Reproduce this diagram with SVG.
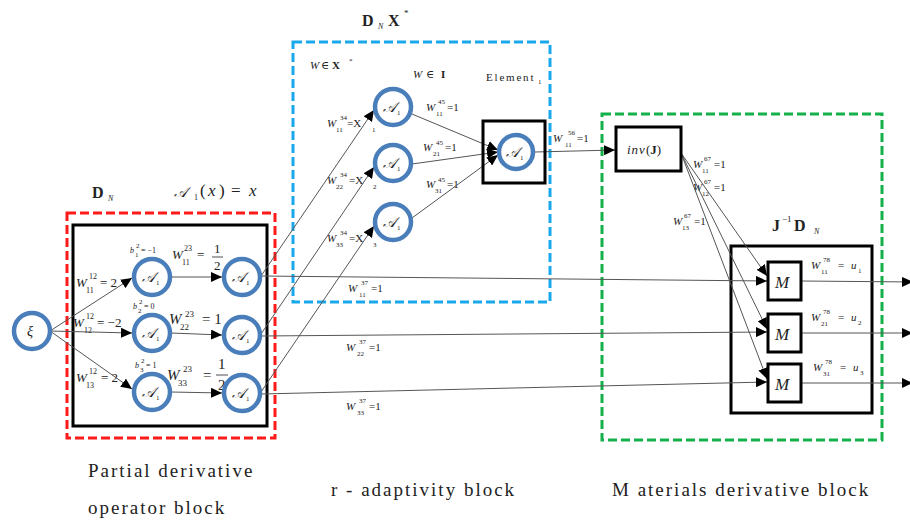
<svg xmlns="http://www.w3.org/2000/svg" width="910" height="523" viewBox="0 0 910 523">
<style>
.bg{fill:#fff}
.ln{stroke:#555;stroke-width:1;fill:none}
.nd{fill:#fff;stroke:#4a7ebb;stroke-width:4.5}
.bx{fill:#fff;stroke:#000;stroke-width:3}
.bxo{fill:none;stroke:#000;stroke-width:3}
.red{fill:none;stroke:#ff1a1a;stroke-width:3;stroke-dasharray:9 4}
.blue{fill:none;stroke:#1aa8ec;stroke-width:3;stroke-dasharray:9 4}
.green{fill:none;stroke:#14b04a;stroke-width:3;stroke-dasharray:9 4}
text{font-family:"Liberation Serif","DejaVu Serif",serif;fill:#222}
.i{font-style:italic}
.w{font-size:13px}
.ws{font-size:11px}
.s{font-size:8px}
.ss{font-size:7px}
.a{font-family:"DejaVu Serif","DejaVu Sans","Noto Sans",serif;font-size:14px;font-style:italic}
.bt{font-size:19px;letter-spacing:2px}
</style>
<defs>
<marker id="ah" markerUnits="userSpaceOnUse" markerWidth="12" markerHeight="10" refX="11" refY="5" orient="auto">
<path d="M0,0 L11,5 L0,10 z" fill="#000"/>
</marker>
</defs>
<rect class="bg" x="0" y="0" width="910" height="523"/>

<g id="blocks">
<rect class="red" x="67" y="213" width="208" height="225"/>
<rect class="blue" x="293" y="42" width="257" height="260"/>
<rect class="green" x="602" y="114" width="280" height="326"/>
<rect class="bxo" x="73" y="225" width="194" height="201"/>
<rect class="bxo" x="731" y="246" width="141" height="167"/>
</g>

<g id="labels-left">
<text x="92" y="198" font-weight="bold" font-size="16">D</text><text x="108" y="201" class="i" font-size="8">N</text>
<text x="174" y="197" class="a" font-size="17">𝒜</text><text x="194" y="200" font-size="8">1</text>
<text x="200" y="196" font-size="17">(</text><text x="208" y="196" font-size="17" class="i">x</text><text x="219" y="196" font-size="17">)</text><text x="231" y="196" font-size="17">=</text><text x="249" y="196" font-size="17" class="i">x</text>
<text x="130" y="253" class="i s">b</text><text x="135" y="257" class="ss">1</text><text x="136" y="248" class="ss">2</text><text x="141" y="253" class="s"> = −1</text>
<text x="133" y="309" class="i s">b</text><text x="138" y="313" class="ss">2</text><text x="139" y="304" class="ss">2</text><text x="144" y="309" class="s"> = 0</text>
<text x="135" y="368" class="i s">b</text><text x="140" y="372" class="ss">3</text><text x="141" y="363" class="ss">2</text><text x="146" y="368" class="s"> = 1</text>
<text x="76" y="287" class="i w">W</text><text x="89" y="279" class="s">12</text><text x="86" y="293" class="s">11</text><text x="100" y="287" class="w"> = 2</text>
<text x="73" y="327" class="i w">W</text><text x="86" y="319" class="s">12</text><text x="84" y="333" class="s">12</text><text x="97" y="327" class="w"> = −2</text>
<text x="76" y="382" class="i w">W</text><text x="89" y="374" class="s">12</text><text x="86" y="388" class="s">13</text><text x="101" y="382" class="w"> = 2</text>
<text x="172" y="259" class="i w">W</text><text x="184" y="251" class="s">23</text><text x="182" y="265" class="s">11</text><text x="197" y="259" class="w">=</text>
<text x="214" y="253" class="w">1</text><line x1="212" y1="257" x2="223" y2="257" stroke="#222" stroke-width="0.8"/><text x="214" y="270" class="w">2</text>
<text x="169" y="324" class="i" font-size="15">W</text><text x="185" y="317" font-size="9">23</text><text x="180" y="330" font-size="9">22</text><text x="202" y="324" font-size="15">= 1</text>
<text x="167" y="380" class="i" font-size="15">W</text><text x="183" y="372" font-size="9">23</text><text x="178" y="386" font-size="9">33</text><text x="203" y="380" font-size="15">=</text>
<text x="218" y="369" font-size="15">1</text><line x1="216" y1="375" x2="228" y2="375" stroke="#222" stroke-width="0.8"/><text x="218" y="390" font-size="15">2</text>
</g>

<g id="labels-mid">
<text x="362" y="26" font-weight="bold" font-size="16">D</text><text x="378" y="29" class="i" font-size="8">N</text><text x="388" y="26" font-weight="bold" font-size="16">X</text><text x="404" y="16" font-size="9">*</text>
<text x="310" y="69" class="i ws">W</text><text x="321" y="69" class="ws">∈</text><text x="332" y="69" class="ws" font-weight="bold">X</text><text x="349" y="63" class="ss">*</text>
<text x="413" y="78" class="i ws">W</text><text x="426" y="78" class="ws">∈</text><text x="441" y="78" class="ws" font-weight="bold">I</text>
<text x="486" y="81" class="ws" letter-spacing="1.8">Element</text><text x="538" y="84" class="ss">1</text>
<text x="426" y="111" class="i ws">W</text><text x="438" y="104" class="ss">45</text><text x="436" y="116" class="ss">11</text><text x="447" y="111" class="ws">=1</text>
<text x="423" y="151" class="i ws">W</text><text x="436" y="145" class="ss">45</text><text x="433" y="156" class="ss">21</text><text x="445" y="151" class="ws">=1</text>
<text x="426" y="188" class="i ws">W</text><text x="438" y="182" class="ss">45</text><text x="435" y="193" class="ss">31</text><text x="447" y="188" class="ws">=1</text>
<text x="327" y="127" class="i ws">W</text><text x="340" y="120" class="ss">34</text><text x="336" y="132" class="ss">11</text><text x="347" y="127" class="ws">=X</text><text x="372" y="132" class="ss">1</text>
<text x="327" y="184" class="i ws">W</text><text x="340" y="177" class="ss">34</text><text x="336" y="189" class="ss">22</text><text x="349" y="184" class="ws">=X</text><text x="373" y="189" class="ss">2</text>
<text x="327" y="242" class="i ws">W</text><text x="340" y="235" class="ss">34</text><text x="336" y="247" class="ss">33</text><text x="349" y="242" class="ws">=X</text><text x="373" y="247" class="ss">3</text>
<text x="348" y="292" class="i ws">W</text><text x="361" y="285" class="ss">37</text><text x="359" y="297" class="ss">11</text><text x="371" y="292" class="ws">=1</text>
<text x="346" y="351" class="i ws">W</text><text x="359" y="344" class="ss">37</text><text x="357" y="356" class="ss">22</text><text x="369" y="351" class="ws">=1</text>
<text x="346" y="410" class="i ws">W</text><text x="359" y="403" class="ss">37</text><text x="357" y="415" class="ss">33</text><text x="369" y="410" class="ws">=1</text>
<text x="553" y="142" class="i ws">W</text><text x="568" y="135" class="ss">56</text><text x="565" y="147" class="ss">11</text><text x="577" y="142" class="ws">=1</text>
</g>

<g id="labels-right">
<text x="693" y="168" class="i ws">W</text><text x="704" y="161" class="ss">67</text><text x="702" y="173" class="ss">11</text><text x="714" y="168" class="ws">=1</text>
<text x="693" y="191" class="i ws">W</text><text x="704" y="184" class="ss">67</text><text x="702" y="196" class="ss">12</text><text x="714" y="191" class="ws">=1</text>
<text x="673" y="225" class="i ws">W</text><text x="684" y="218" class="ss">67</text><text x="682" y="230" class="ss">13</text><text x="694" y="225" class="ws">=1</text>
<text x="772" y="231" font-weight="bold" font-size="16">J</text><text x="782" y="222" font-size="9">−1</text><text x="794" y="231" font-weight="bold" font-size="16">D</text><text x="814" y="234" class="i" font-size="8">N</text>
<text x="811" y="269" class="i ws">W</text><text x="823" y="262" class="ss">78</text><text x="821" y="274" class="ss">11</text><text x="838" y="269" class="ws">=</text><text x="851" y="269" class="i ws">u</text><text x="858" y="273" class="ss">1</text>
<text x="811" y="321" class="i ws">W</text><text x="823" y="314" class="ss">78</text><text x="821" y="326" class="ss">21</text><text x="838" y="321" class="ws">=</text><text x="851" y="321" class="i ws">u</text><text x="858" y="325" class="ss">2</text>
<text x="813" y="371" class="i ws">W</text><text x="825" y="364" class="ss">78</text><text x="823" y="376" class="ss">31</text><text x="840" y="371" class="ws">=</text><text x="853" y="371" class="i ws">u</text><text x="860" y="375" class="ss">3</text>
</g>

<g id="connectors">
<line class="ln" x1="50" y1="331" x2="132" y2="278" marker-end="url(#ah)"/>
<line class="ln" x1="50" y1="331" x2="132" y2="333" marker-end="url(#ah)"/>
<line class="ln" x1="50" y1="331" x2="132" y2="389" marker-end="url(#ah)"/>
<line class="ln" x1="171" y1="277" x2="222" y2="277" marker-end="url(#ah)"/>
<line class="ln" x1="171" y1="333" x2="222" y2="335" marker-end="url(#ah)"/>
<line class="ln" x1="171" y1="392" x2="222" y2="393" marker-end="url(#ah)"/>
<line class="ln" x1="261" y1="276" x2="767" y2="281" marker-end="url(#ah)"/>
<line class="ln" x1="261" y1="336" x2="767" y2="332" marker-end="url(#ah)"/>
<line class="ln" x1="261" y1="394" x2="767" y2="382" marker-end="url(#ah)"/>
<line class="ln" x1="261" y1="276" x2="374" y2="110" marker-end="url(#ah)"/>
<line class="ln" x1="261" y1="334" x2="374" y2="167" marker-end="url(#ah)"/>
<line class="ln" x1="261" y1="392" x2="374" y2="226" marker-end="url(#ah)"/>
<line class="ln" x1="412" y1="114" x2="498" y2="150" marker-end="url(#ah)"/>
<line class="ln" x1="412" y1="164" x2="498" y2="152" marker-end="url(#ah)"/>
<line class="ln" x1="412" y1="218" x2="498" y2="155" marker-end="url(#ah)"/>
<line class="ln" x1="535" y1="152" x2="615" y2="150" marker-end="url(#ah)"/>
<line class="ln" x1="681" y1="153" x2="767" y2="276" marker-end="url(#ah)"/>
<line class="ln" x1="681" y1="153" x2="767" y2="329" marker-end="url(#ah)"/>
<line class="ln" x1="681" y1="153" x2="767" y2="379" marker-end="url(#ah)"/>
<line class="ln" x1="801" y1="281" x2="913" y2="282" marker-end="url(#ah)"/>
<line class="ln" x1="801" y1="333" x2="913" y2="333" marker-end="url(#ah)"/>
<line class="ln" x1="801" y1="383" x2="913" y2="383" marker-end="url(#ah)"/>
</g>

<g id="xi"><circle class="nd" cx="32" cy="331" r="18"/><text x="27" y="336" class="i" font-size="14">ξ</text></g>

<g id="n1a"><circle class="nd" cx="152" cy="277" r="18"/><text x="142" y="282" class="a">𝒜</text><text x="156" y="285" class="ss">1</text></g>
<g id="n1b"><circle class="nd" cx="152" cy="333" r="18"/><text x="142" y="338" class="a">𝒜</text><text x="156" y="341" class="ss">1</text></g>
<g id="n1c"><circle class="nd" cx="152" cy="392" r="18"/><text x="142" y="397" class="a">𝒜</text><text x="156" y="400" class="ss">1</text></g>
<g id="n2a"><circle class="nd" cx="242" cy="277" r="18"/><text x="232" y="282" class="a">𝒜</text><text x="246" y="285" class="ss">1</text></g>
<g id="n2b"><circle class="nd" cx="242" cy="335" r="18"/><text x="232" y="340" class="a">𝒜</text><text x="246" y="343" class="ss">1</text></g>
<g id="n2c"><circle class="nd" cx="242" cy="393" r="18"/><text x="232" y="398" class="a">𝒜</text><text x="246" y="401" class="ss">1</text></g>

<g id="n3a"><circle class="nd" cx="393" cy="107" r="18"/><text x="383" y="112" class="a">𝒜</text><text x="397" y="115" class="ss">1</text></g>
<g id="n3b"><circle class="nd" cx="393" cy="163" r="18"/><text x="383" y="168" class="a">𝒜</text><text x="397" y="171" class="ss">1</text></g>
<g id="n3c"><circle class="nd" cx="393" cy="222" r="18"/><text x="383" y="227" class="a">𝒜</text><text x="397" y="230" class="ss">1</text></g>

<g id="element1"><rect class="bxo" x="483" y="121" width="62" height="62"/><circle class="nd" cx="516" cy="152" r="17"/><text x="506" y="157" class="a">𝒜</text><text x="520" y="160" class="ss">1</text></g>

<g id="invJ"><rect class="bx" x="616" y="127" width="65" height="44"/><text x="627" y="154" font-size="13"><tspan class="i" letter-spacing="1">inv</tspan><tspan>(</tspan><tspan font-weight="bold">J</tspan><tspan>)</tspan></text></g>

<g id="M1"><rect class="bx" x="768" y="262" width="33" height="38"/><text x="775" y="288" class="i" font-size="17">M</text></g>
<g id="M2"><rect class="bx" x="768" y="314" width="33" height="38"/><text x="775" y="340" class="i" font-size="17">M</text></g>
<g id="M3"><rect class="bx" x="768" y="364" width="33" height="38"/><text x="775" y="390" class="i" font-size="17">M</text></g>

<g id="captions">
<text x="88" y="477" class="bt">Partial derivative</text>
<text x="88" y="514" class="bt">operator block</text>
<text x="331" y="496" class="bt">r - adaptivity block</text>
<text x="612" y="496" class="bt">M aterials derivative block</text>
</g>
</svg>
